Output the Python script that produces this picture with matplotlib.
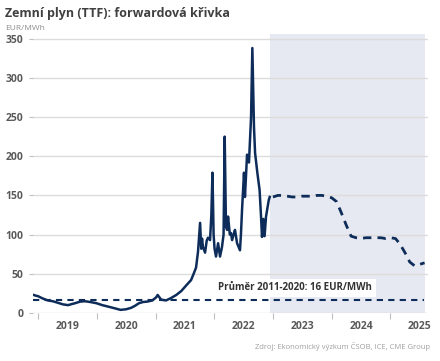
import numpy as np
import pandas as pd
import matplotlib
matplotlib.use("Agg")
import matplotlib.pyplot as plt

plt.rcParams['font.family'] = ['Open Sans', 'DejaVu Sans']

# historical TTF prices (EUR/MWh)
hist_dates = ["2018-12-05", "2018-12-20", "2019-01-01", "2019-01-25", "2019-03-03",
              "2019-04-03", "2019-05-05", "2019-06-05", "2019-07-07", "2019-08-01",
              "2019-08-20", "2019-09-20", "2019-10-20", "2019-11-22", "2019-12-30",
              "2020-02-05", "2020-03-15", "2020-04-22", "2020-05-28", "2020-07-01",
              "2020-08-01", "2020-08-25", "2020-09-20", "2020-10-15", "2020-11-10",
              "2020-12-12", "2021-01-05", "2021-01-14", "2021-02-05", "2021-03-07",
              "2021-04-07", "2021-05-10", "2021-06-10", "2021-07-10", "2021-08-10",
              "2021-08-28", "2021-09-10", "2021-09-22", "2021-10-05", "2021-10-12",
              "2021-10-17", "2021-10-23", "2021-11-05", "2021-11-15", "2021-11-23",
              "2021-12-06", "2021-12-14", "2021-12-21", "2021-12-28", "2022-01-03",
              "2022-01-12", "2022-01-25", "2022-02-06", "2022-02-18", "2022-02-28",
              "2022-03-07", "2022-03-15", "2022-03-22", "2022-03-28", "2022-04-08",
              "2022-04-15", "2022-04-22", "2022-05-04", "2022-05-10", "2022-05-23",
              "2022-06-10", "2022-06-16", "2022-06-23", "2022-07-05", "2022-07-11",
              "2022-07-24", "2022-08-05", "2022-08-18", "2022-08-26", "2022-09-05",
              "2022-09-12", "2022-09-26", "2022-10-10", "2022-10-19", "2022-10-25",
              "2022-11-02", "2022-11-10", "2022-11-19", "2022-12-06", "2022-12-12"]
hist_values = [23, 22, 21.5, 19, 16,
               15, 13, 11, 10, 11.5,
               12.5, 14.5, 15, 14, 12.5,
               10, 8, 6, 4, 4.7,
               6.5, 9, 12.5, 14, 14.5,
               16, 20, 23, 17, 16,
               19, 23, 28, 35, 42,
               51, 58, 78, 115, 82,
               95, 84, 77, 92, 96,
               93, 125, 179, 100, 82,
               72, 89, 72, 84, 100,
               225, 110, 106, 123, 100,
               102, 93, 102, 106, 89,
               80, 100, 132, 179, 148,
               202, 192, 250, 338, 238,
               204, 179, 157, 123, 97,
               120, 98, 123, 144, 148]

# forward curve (monthly contracts)
fwd_dates = pd.date_range("2023-01-01", "2025-08-01", freq="MS")
fwd_values = [148, 150, 150, 149, 148, 148, 149, 149, 149, 150, 150, 149,
              147, 142, 128, 112, 98, 96, 95, 96, 96, 96, 96, 95,
              96, 95, 88, 77, 65, 60, 62, 64]

avg_value = 16
avg_label = "Průměr 2011-2020: 16 EUR/MWh"
years = [2019, 2020, 2021, 2022, 2023, 2024, 2025]

navy = "#0d2c5a"
grey_txt = "#595959"

fig = plt.figure(figsize=(4.4, 3.61), dpi=100)
ax = fig.add_axes([0.075, 0.133, 0.898, 0.773])

hd = pd.to_datetime(hist_dates)
ax.axvspan(pd.Timestamp("2022-12-12"), pd.Timestamp("2025-08-04"), color="#e6e9f1", zorder=0, lw=0)
for v in range(0, 351, 50):
    ax.axhline(v, color="#dcdcdc", lw=1, zorder=1)

ax.axhline(avg_value, xmin=0, xmax=0.99, color=navy, lw=1.5, ls=(0, (3, 2.5)), zorder=2)
ax.plot(hd, hist_values, color=navy, lw=1.8, zorder=3)
ax.plot(fwd_dates, fwd_values, color=navy, lw=2, ls=(0, (3, 2.2)), zorder=3)

ax.text(pd.Timestamp("2023-05-20"), 32, avg_label, fontsize=7, fontweight="bold", color="#333333",
        ha="center", va="center", zorder=4,
        bbox=dict(facecolor="white", edgecolor="none", pad=2.5))

ax.set_xlim(pd.Timestamp("2018-12-01"), pd.Timestamp("2025-08-23"))
ax.set_ylim(0, 356)
ax.set_yticks(range(0, 351, 50))
ax.tick_params(axis="y", length=3, color="#bfbfbf", pad=4, labelsize=7.5, labelcolor=grey_txt)
for lab in ax.get_yticklabels():
    lab.set_fontweight("bold")

ax.set_xticks([pd.Timestamp(f"{y}-01-01") for y in years])
ax.set_xticklabels([])
ax.set_xticks([pd.Timestamp(f"{y}-07-02") for y in years], minor=True)
ax.set_xticklabels([str(y) for y in years], minor=True)
ax.tick_params(axis="x", which="major", length=4, color="#bfbfbf", direction="out")
ax.tick_params(axis="x", which="minor", length=0, pad=6, labelsize=7.5, labelcolor=grey_txt)
for lab in ax.get_xticklabels(minor=True):
    lab.set_fontweight("bold")

for s in ax.spines.values():
    s.set_visible(False)

fig.text(0.012, 0.962, "Zemní plyn (TTF): forwardová křivka", fontsize=9, fontweight="bold",
         color="#404040", va="center")
fig.text(0.012, 0.922, "EUR/MWh", fontsize=6, color="#8c8c8c", va="center")
fig.text(0.978, 0.04, "Zdroj: Ekonomický výzkum ČSOB, ICE, CME Group", fontsize=5.5,
         color="#a0a0a0", ha="right", va="center")

fig.savefig("out.png", dpi=100)
